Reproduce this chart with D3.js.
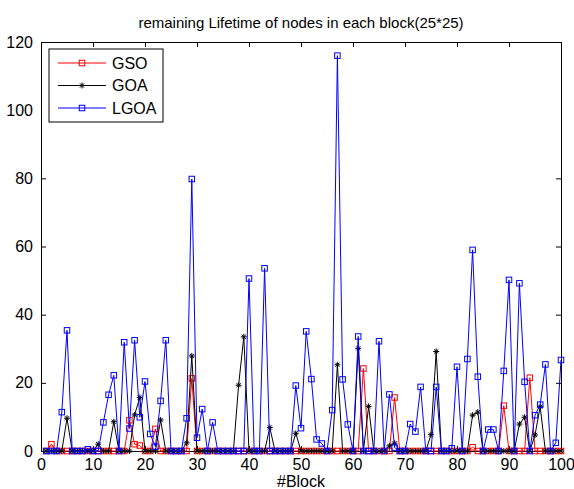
<!DOCTYPE html>
<html>
<head>
    <meta charset="utf-8">
    <style>
        body {
            margin: 0;
            background-color: #FFF;
        }
        text {
            font-family: "Liberation Sans", Arial, sans-serif;
        }
    </style>
</head>
<body>
<div id="chartArea"></div>
<script src="https://d3js.org/d3.v7.min.js"></script>

<script>
    /* -----------------------------------
        data
    ----------------------------------- */
    var blocks = d3.range(1, 101);

    var gso = [
        0, 2, 0, 0, 0, 0, 0, 0, 0, 0,
        0, 0, 0, 0, 0, 0, 9, 2, 1.6, 0,
        0, 6.5, 0, 0, 0, 0, 0, 0, 21.3, 0,
        0, 0, 0, 0, 0, 0, 0, 0, 0, 0,
        0, 0, 0, 0, 0, 0, 0, 0, 0, 0,
        0, 0, 0, 0, 0, 0, 0, 0, 0, 0,
        0, 24.2, 0, 0, 0, 0, 0, 15.7, 0, 0,
        0, 0, 0, 0, 0, 0, 0, 0, 0, 0,
        0, 0, 1.1, 0, 0, 0, 0, 0, 13.3, 0,
        0, 0, 0, 21.5, 0, 0, 0, 0, 0, 0
    ];

    var goa = [
        0, 0, 0, 0, 9.6, 0, 0, 0, 0, 0,
        2, 0, 0, 8.6, 0, 0, 0, 10.6, 15.7, 0,
        0, 0, 9.1, 0, 0, 0, 0, 2.4, 27.9, 0,
        0, 0, 0, 0, 0, 0, 0, 19.3, 33.5, 0,
        0, 0, 0, 6.9, 0, 0, 0, 0, 5.2, 0,
        0, 0, 0, 0, 0, 0, 25.3, 0, 0, 0,
        30.1, 0, 13.1, 0, 0, 0, 1.5, 2.3, 0, 0,
        0, 0, 0, 0, 4.8, 29.2, 0, 0, 0, 0,
        0, 0, 10.5, 11.4, 0, 0, 0, 0, 0, 0,
        0, 7.9, 9.9, 0, 4.7, 13, 0, 0, 0, 0
    ];

    var lgoa = [
        0, 0, 0, 11.4, 35.4, 0, 0, 0, 0.5, 0,
        0, 8.4, 16.5, 22.2, 0, 31.9, 6.6, 32.5, 9.9, 20.4,
        5, 1.3, 14.7, 32.5, 0, 0, 0, 9.6, 79.8, 3.9,
        12.3, 0, 8.4, 0, 0, 0, 0, 0, 0, 50.6,
        0, 0, 53.6, 0, 0, 0, 0, 0, 19.2, 6.7,
        35.1, 21.1, 3.4, 2.2, 0, 12, 116, 21, 7.8, 0,
        33.6, 0, 0, 0, 32.2, 0, 16.6, 1, 0, 0,
        7.9, 5.7, 18.8, 0, 0, 18.8, 0, 0, 0.8, 24.7,
        0, 27, 59, 21.8, 0, 6.3, 6.3, 0, 23.5, 50.2,
        0, 49.2, 20.3, 0, 10.5, 13.6, 25.4, 0, 2.4, 26.7
    ];

    var xTicks = [0, 10, 20, 30, 40, 50, 60, 70, 80, 90, 100];
    var yTicks = [0, 20, 40, 60, 80, 100, 120];

    var seriesNames = ["GSO", "GOA", "LGOA"];
    var seriesColors = ["#FF0000", "#000000", "#0000FF"];
    var seriesMarkers = ["square", "star", "square"];
    var seriesValues = [gso, goa, lgoa];

    /* -----------------------------------
        initialize
    ----------------------------------- */
    var width = 574, height = 489;
    var margin = {top: 42, right: 13, bottom: 38, left: 41},
        cWidth = width - margin.left - margin.right,
        cHeight = height - margin.top - margin.bottom;

    var svg = d3.select("#chartArea").append("svg")
        .attr("width", width)
        .attr("height", height);

    var container = svg.append("g")
        .attr("transform", "translate(" + margin.left + "," + margin.top + ")");

    var x = d3.scaleLinear().domain([0, 100]).range([0, cWidth]);
    var y = d3.scaleLinear().domain([0, 120]).range([cHeight, 0]);

    /* -----------------------------------
        axes (matlab style, ticks inside)
    ----------------------------------- */
    var tickLen = 5;

    var xAxis = container.append("g")
        .attr("transform", "translate(0," + cHeight + ")")
        .call(d3.axisBottom(x).tickValues(xTicks).tickSize(-tickLen).tickPadding(8));
    var xTop = container.append("g")
        .call(d3.axisTop(x).tickValues(xTicks).tickSize(-tickLen).tickFormat(""));
    var yAxis = container.append("g")
        .call(d3.axisLeft(y).tickValues(yTicks).tickSize(-tickLen).tickPadding(8));
    var yRight = container.append("g")
        .attr("transform", "translate(" + cWidth + ",0)")
        .call(d3.axisRight(y).tickValues(yTicks).tickSize(-tickLen).tickFormat(""));

    container.selectAll(".domain").attr("stroke", "#000");
    container.selectAll(".tick line").attr("stroke", "#000");
    container.selectAll(".tick text")
        .attr("fill", "#000")
        .style("font-size", "16px")
        .style("font-family", "'Liberation Sans', Arial, sans-serif");
    // hide end ticks that sit on the box corners
    container.selectAll(".tick").filter(function(d) { return d === 0 || d === 100 || d === 120; })
        .select("line").attr("stroke", "none");

    /* -----------------------------------
        series
    ----------------------------------- */
    var line = d3.line()
        .x(function(d) { return x(d.b); })
        .y(function(d) { return y(d.v); });

    var squareSize = 5.5, starSize = 3;

    function drawMarker(g, kind, color, cx, cy) {
        if (kind === "square") {
            g.append("rect")
                .attr("x", cx - squareSize / 2)
                .attr("y", cy - squareSize / 2)
                .attr("width", squareSize)
                .attr("height", squareSize)
                .attr("fill", "none")
                .attr("stroke", color)
                .attr("stroke-width", 1);
        } else {
            var p = "M" + (cx - starSize) + "," + cy + "L" + (cx + starSize) + "," + cy +
                "M" + cx + "," + (cy - starSize) + "L" + cx + "," + (cy + starSize) +
                "M" + (cx - starSize * 0.7) + "," + (cy - starSize * 0.7) + "L" + (cx + starSize * 0.7) + "," + (cy + starSize * 0.7) +
                "M" + (cx - starSize * 0.7) + "," + (cy + starSize * 0.7) + "L" + (cx + starSize * 0.7) + "," + (cy - starSize * 0.7);
            g.append("path").attr("d", p).attr("stroke", color).attr("stroke-width", 1).attr("fill", "none");
        }
    }

    seriesValues.forEach(function(vals, k) {
        var data = blocks.map(function(b, i) { return {b: b, v: vals[i]}; });
        var g = container.append("g");

        g.append("path")
            .datum(data)
            .attr("d", line)
            .attr("fill", "none")
            .attr("stroke", seriesColors[k])
            .attr("stroke-width", 1);

        data.forEach(function(d) {
            drawMarker(g, seriesMarkers[k], seriesColors[k], x(d.b), y(d.v));
        });
    });

    /* -----------------------------------
        legend
    ----------------------------------- */
    var legend = svg.append("g").attr("transform", "translate(49,49)");

    legend.append("rect")
        .attr("width", 114)
        .attr("height", 73)
        .attr("fill", "#FFF")
        .attr("stroke", "#000")
        .attr("stroke-width", 1);

    seriesNames.forEach(function(name, k) {
        var ly = 14 + k * 22.5;
        legend.append("line")
            .attr("x1", 9).attr("x2", 57)
            .attr("y1", ly).attr("y2", ly)
            .attr("stroke", seriesColors[k])
            .attr("stroke-width", 1);
        drawMarker(legend, seriesMarkers[k], seriesColors[k], 33, ly);
        legend.append("text")
            .attr("x", 63)
            .attr("y", ly)
            .attr("dy", "0.36em")
            .style("font-size", "16px")
            .text(name);
    });

    /* -----------------------------------
        titles
    ----------------------------------- */
    svg.append("text")
        .attr("x", margin.left + cWidth / 2)
        .attr("y", 28)
        .attr("text-anchor", "middle")
        .style("font-size", "15px")
        .text("remaining Lifetime of nodes in each block(25*25)");

    svg.append("text")
        .attr("x", margin.left + cWidth / 2)
        .attr("y", 487)
        .attr("text-anchor", "middle")
        .style("font-size", "16px")
        .text("#Block");
</script>
</body>
</html>
